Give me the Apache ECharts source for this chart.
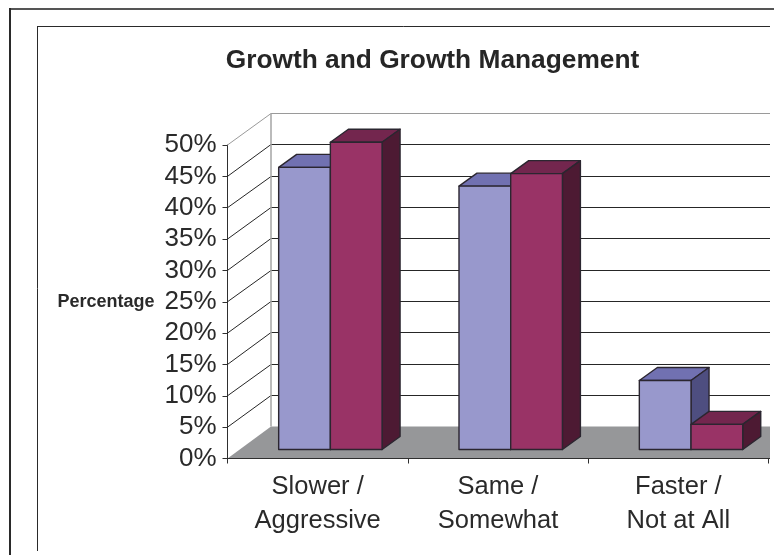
<!DOCTYPE html>
<html><head><meta charset="utf-8">
<style>html,body{margin:0;padding:0;background:#fff}#c{width:774px;height:555px}</style>
<script src="https://cdn.jsdelivr.net/npm/echarts@6/dist/echarts.min.js"></script>
</head><body><div id="c"></div>
<script>
var categories = ['Slower /\nAggressive', 'Same /\nSomewhat', 'Faster /\nNot at All'];
var seriesA = [45, 42, 11];
var seriesB = [49, 44, 4];
var yTicks = [0, 5, 10, 15, 20, 25, 30, 35, 40, 45, 50];

var FONT = '"Liberation Sans", Arial, sans-serif';
var WALL = [43.5, -32], BASE = [12.7, -9], DEPTH = [18, -13], BAR_W = 51.7, RIGHT = 770;
var STROKE = '#2b2630';

function poly(pts, fill) {
  return {type: 'polygon', shape: {points: pts},
    style: {fill: fill, stroke: STROKE, lineWidth: 1.4, lineJoin: 'round'}};
}
function barItem(dir, cFront, cTop, cSide) {
  return function (params, api) {
    var base = api.coord([api.value(0), 0]);
    var top = api.coord([api.value(0), api.value(1)]);
    var x0 = base[0] + BASE[0] + (dir < 0 ? -BAR_W : 0), x1 = x0 + BAR_W;
    var yb = base[1] + BASE[1], yt = top[1] + BASE[1];
    var dx = DEPTH[0], dy = DEPTH[1];
    return {type: 'group', children: [
      poly([[x0, yt], [x1, yt], [x1 + dx, yt + dy], [x0 + dx, yt + dy]], cTop),
      poly([[x1, yb], [x1, yt], [x1 + dx, yt + dy], [x1 + dx, yb + dy]], cSide),
      poly([[x0, yb], [x1, yb], [x1, yt], [x0, yt]], cFront)
    ]};
  };
}
function line(x1, y1, x2, y2, color, w) {
  return {type: 'line', shape: {x1: x1, y1: y1, x2: x2, y2: y2}, style: {stroke: color, lineWidth: w}};
}
function wallItem(params, api) {
  var p = api.coord([0, api.value(1)]);
  var x0 = params.coordSys.x, y = p[1], v = api.value(1);
  var isTop = v === yTicks[yTicks.length - 1], isFloor = v === 0;
  var c = isTop ? '#9a9a9a' : '#262626';
  var back = Math.round(y + WALL[1]) + 0.5;
  var kids = [];
  if (!isFloor) {
    kids.push(line(x0, y, x0 + WALL[0], back, c, 1));
    kids.push(line(x0 + WALL[0], back, RIGHT, back, c, 1));
  }
  if (isTop) {
    var b = api.coord([0, 0]);
    kids.push(line(x0 + WALL[0], back, x0 + WALL[0], b[1] + WALL[1], '#a5a5a5', 1.5));
  }
  if (isFloor) {
    kids.push({type: 'polygon', shape: {points: [[x0, y], [x0 + WALL[0], y + WALL[1]], [RIGHT, y + WALL[1]], [RIGHT, y]]},
      style: {fill: '#969799'}});
    kids.push(line(x0, y, RIGHT, y, '#2f2f2f', 1));
  }
  return {type: 'group', children: kids};
}
function toPairs(a) { return a.map(function (v, i) { return [i, v]; }); }

var chart = echarts.init(document.getElementById('c'), null, {renderer: 'canvas'});
chart.setOption({
  animation: false,
  backgroundColor: '#ffffff',
  title: {text: 'Growth and Growth Management', left: 427.5, top: 43, textAlign: 'center',
    textStyle: {fontFamily: FONT, fontSize: 26.3, fontWeight: 'bold', color: '#262626'}},
  grid: {left: 227.5, top: 145, width: 541, height: 313.5},
  xAxis: {type: 'category', data: categories,
    axisLine: {lineStyle: {color: '#2f2f2f', width: 1}},
    axisTick: {show: true, length: 5, lineStyle: {color: '#2f2f2f'}},
    axisLabel: {fontFamily: FONT, fontSize: 25.5, color: '#2a2a2a', lineHeight: 34, margin: 11, interval: 0}},
  yAxis: {type: 'value', min: 0, max: 50, interval: 5,
    name: 'Percentage', nameLocation: 'middle', nameRotate: 0, nameGap: 73,
    nameTextStyle: {fontFamily: FONT, fontSize: 18, fontWeight: 'bold', color: '#2a2a2a', padding: [3, 0, 0, 0]},
    axisLine: {show: true, lineStyle: {color: '#2f2f2f', width: 1}},
    axisTick: {show: true, length: 5, lineStyle: {color: '#2f2f2f'}},
    splitLine: {show: false},
    axisLabel: {fontFamily: FONT, fontSize: 26, color: '#2a2a2a', margin: 11, padding: [5, 0, 0, 0],
      formatter: function (v) { return v + '%'; }}},
  series: [
    {type: 'custom', name: 'Walls', z: 1, data: yTicks.map(function (v) { return [0, v]; }),
      encode: {x: 0, y: 1}, renderItem: wallItem},
    {type: 'custom', name: 'Series A', z: 3, data: toPairs(seriesA), encode: {x: 0, y: 1},
      renderItem: barItem(-1, '#9898cc', '#7171b1', '#4e4e80')},
    {type: 'custom', name: 'Series B', z: 3, data: toPairs(seriesB), encode: {x: 0, y: 1},
      renderItem: barItem(1, '#993366', '#73264e', '#4d1a33')}
  ],
  graphic: {elements: [
    {type: 'line', z: 50, shape: {x1: 9, y1: 9, x2: 774, y2: 9}, style: {stroke: '#555', lineWidth: 2}},
    {type: 'line', z: 50, shape: {x1: 10, y1: 8, x2: 10, y2: 555}, style: {stroke: '#2a2a2a', lineWidth: 2}},
    {type: 'line', z: 50, shape: {x1: 37.5, y1: 26.5, x2: 770, y2: 26.5}, style: {stroke: '#2a2a2a', lineWidth: 1}},
    {type: 'line', z: 50, shape: {x1: 37.5, y1: 26, x2: 37.5, y2: 551}, style: {stroke: '#2a2a2a', lineWidth: 1}}
  ]}
});
</script></body></html>
